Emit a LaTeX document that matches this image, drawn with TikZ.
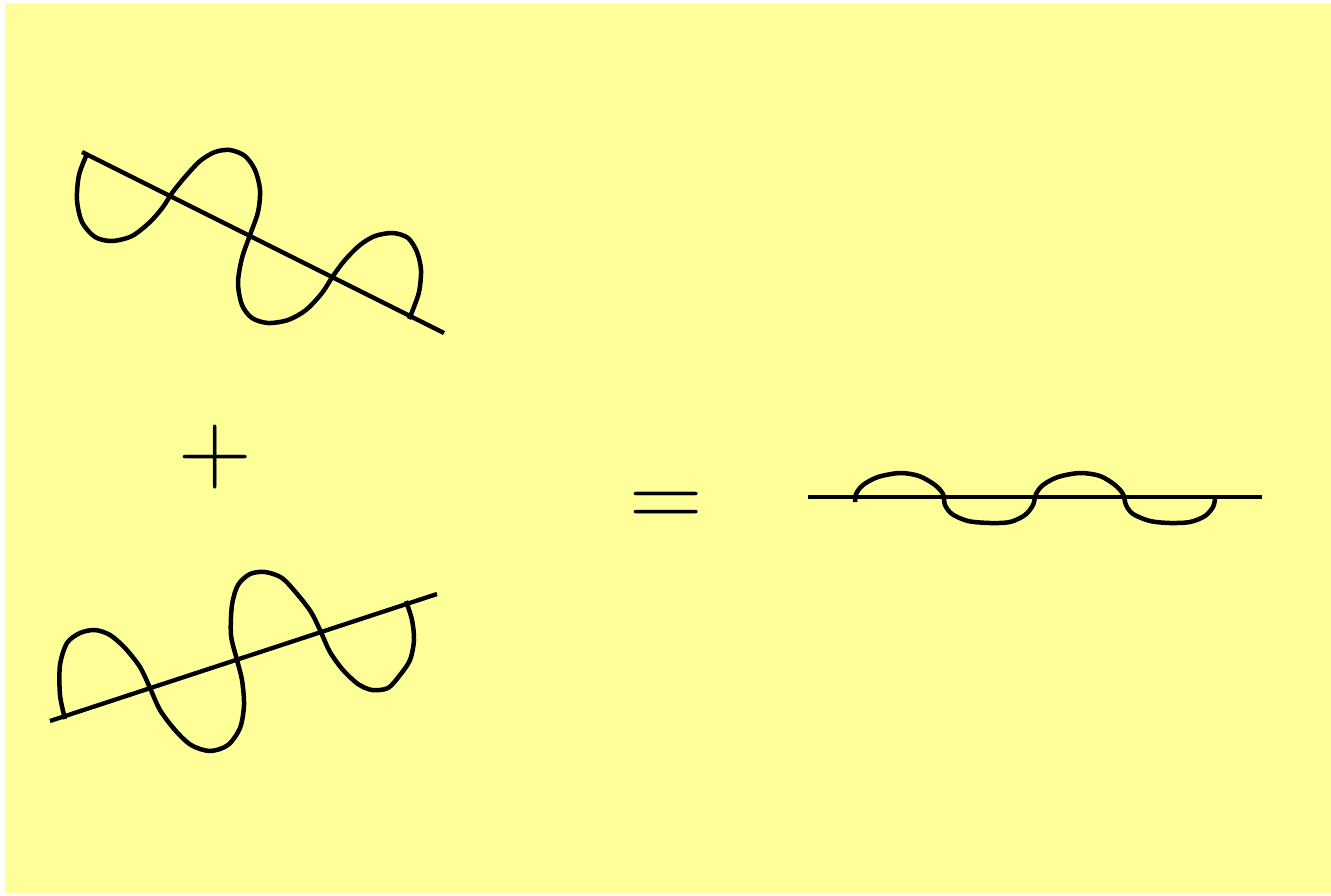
\documentclass[tikz,border=0pt]{standalone}
\usepackage{fontspec}
\definecolor{bgyellow}{RGB}{255,255,153}
\tikzset{
  strand/.style={line width=4.3pt, line join=round, line cap=butt},
  wave/.style={line width=4.5pt, line join=round, smooth, tension=0.5},
  sign/.style={inner sep=0pt, anchor=base, font=\fontsize{102}{102}\selectfont}
}
\begin{document}
\begin{tikzpicture}[x=1pt, y=-1pt]
\useasboundingbox (0,0) rectangle (1331,895);
\fill[bgyellow] (5,3) rectangle (1331,893);

% top figure
\coordinate (t1) at (82,152);
\coordinate (t2) at (444,333);
\draw[strand] (t1) -- (t2);
\draw[wave] plot coordinates {(87,154) (79,175) (77,200) (82,222) (95,237) (112,241) (132,236) (150,222) (163,207) (172,193) (185,177) (200,161) (215,152) (230,150) (245,156) (255,170) (260,190) (258,212) (250,235) (242,258) (238,283) (242,305) (252,318) (268,323) (288,320) (306,310) (322,293) (333,276) (345,260) (360,245) (375,236) (393,233) (408,238) (417,252) (421,270) (419,292) (412,312) (409,319)};

% bottom figure
\coordinate (b1) at (50,721);
\coordinate (b2) at (437,594);
\draw[strand] (b1) -- (b2);
\draw[wave] plot coordinates {(65,719) (60,695) (60,665) (67,643) (80,633) (95,630) (110,635) (125,648) (140,667) (150,688) (160,710) (175,730) (191,745) (210,751) (228,745) (240,728) (244,705) (242,680) (237,660) (231,635) (232,605) (238,585) (250,574) (265,572) (282,578) (298,595) (311,612) (320,630) (330,652) (343,670) (358,684) (372,690) (388,688) (400,675) (410,660) (414,640) (412,620) (406,601)};

% right figure
\coordinate (r1) at (808,497);
\coordinate (r2) at (1262,497);
\draw[strand] (r1) -- (r2);
\draw[wave] plot coordinates {(855,502) (856,494) (863,485) (878,477) (900,473) (919,476) (935,485) (943,494) (945,505) (952,514) (968,521) (990,523) (1010,522) (1025,515) (1033,505) (1036,494) (1043,485) (1058,477) (1080,473) (1100,476) (1115,485) (1123,494) (1126,505) (1133,514) (1150,521) (1170,523) (1190,522) (1205,516) (1213,507) (1215,499)};

% signs
\node[sign] (plus) at (215,482) {+};
\node[sign] (equals) at (666,528) {=};
\end{tikzpicture}
\end{document}
